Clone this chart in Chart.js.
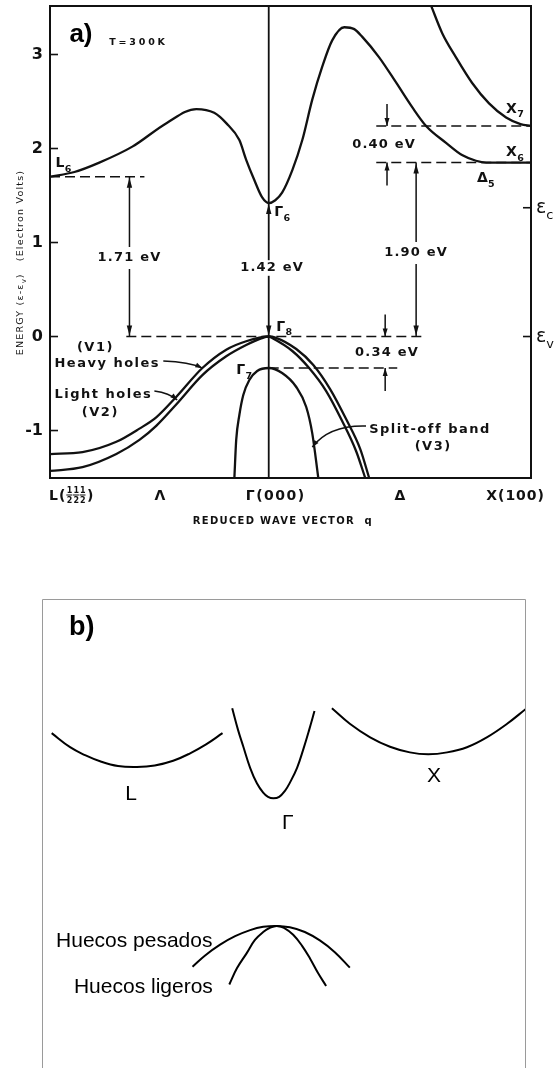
<!DOCTYPE html>
<html>
<head>
<meta charset="utf-8">
<title>GaAs band structure</title>
<script src="https://cdn.jsdelivr.net/npm/chart.js@4.4.1/dist/chart.umd.min.js"></script>
<style>
  html, body { margin:0; padding:0; background:#ffffff; width:559px; height:1068px; overflow:hidden; }
  canvas { position:absolute; left:0; display:block; }
  #chartA { top:0; }
  #chartB { top:540px; }
</style>
</head>
<body>
<canvas id="chartA" width="559" height="540"></canvas>
<canvas id="chartB" width="559" height="528"></canvas>
<script>
// ================= Panel a) : band structure (q: L=-0.834, Γ=0, X=1 ; E - Ev in eV) =================
const yTickVals = [-1, 0, 1, 2, 3];
const xTickQ    = [-0.834, -0.415, 0, 0.5, 1];
const xTickText = ['L', 'Λ', 'Γ(000)', 'Δ', 'X(100)'];
const xTitleText = 'REDUCED WAVE VECTOR  q';

const conductionQ = [-0.834,-0.741,-0.646,-0.520,-0.390,-0.276,-0.208,-0.162,-0.112,-0.086,-0.055,-0.025,0,0.025,0.051,0.090,0.128,0.166,0.204,0.242,0.288,0.326,0.356,0.421,0.486,0.547,0.600,0.676,0.737,0.790,0.829,1.0];
const conductionE = [1.70,1.75,1.85,2.02,2.27,2.42,2.38,2.27,2.09,1.88,1.665,1.48,1.42,1.45,1.53,1.77,2.09,2.52,2.87,3.15,3.29,3.27,3.19,2.97,2.70,2.44,2.24,2.06,1.93,1.87,1.85,1.85];

const upperBandQ = [0.619,0.661,0.714,0.775,0.840,0.905,0.960,1.0];
const upperBandE = [3.52,3.23,2.97,2.70,2.48,2.33,2.26,2.24];

const heavyQ = [-0.834,-0.710,-0.581,-0.493,-0.429,-0.352,-0.253,-0.162,-0.086,0,0.025,0.105,0.170,0.234,0.295,0.349,0.383];
const heavyE = [-1.25,-1.23,-1.12,-0.98,-0.86,-0.64,-0.335,-0.14,-0.05,0,-0.011,-0.133,-0.303,-0.559,-0.878,-1.197,-1.505];

const lightQ = [-0.834,-0.710,-0.581,-0.493,-0.429,-0.352,-0.253,-0.162,-0.086,-0.029,0,0.013,0.090,0.154,0.219,0.280,0.333,0.368];
const lightE = [-1.43,-1.39,-1.25,-1.10,-0.95,-0.72,-0.41,-0.21,-0.09,-0.02,0,-0.016,-0.154,-0.335,-0.580,-0.899,-1.218,-1.505];

const splitQ = [-0.131,-0.124,-0.112,-0.097,-0.074,-0.044,0,0.051,0.105,0.143,0.166,0.189];
const splitE = [-1.505,-1.10,-0.835,-0.622,-0.463,-0.367,-0.335,-0.388,-0.537,-0.75,-1.03,-1.505];

// dashed reference levels: L6, valence top, Γ7, X7, X6
const levelE     = [1.70, 0, -0.335, 2.24, 1.85];
const levelFromQ = [-0.834, -0.543, 0, 0.410, 0.410];
const levelToQ   = [-0.474, 0.600, 0.490, 1.0, 1.0];

// energy gaps (double arrows)
const gapText = ['1.71 eV', '1.42 eV', '1.90 eV'];
const gapQ    = [-0.531, 0, 0.562];
const gapLow  = [0, 0, 0];
const gapHigh = [1.70, 1.42, 1.85];
const gapLabelE = [0.835, 0.729, 0.888];
const gapLabelShift = [0, 0.013, 0];

// small separations
const sepText  = ['0.40 eV', '0.34 eV'];
const sepQ     = [0.451, 0.444];
const sepUpper = [2.24, 0];
const sepLower = [1.85, -0.335];
const sepLabelQ = [0.440, 0.451];
const sepLabelE = [2.037, -0.176];

// right-edge marks
const edgeE   = [1.37, 0];
const edgeSub = ['c', 'v'];

// band-point labels
const bandText = ['L', 'Γ', 'Γ', 'Γ', 'X', 'X', 'Δ'];
const bandSub  = ['6', '6', '8', '7', '7', '6', '5'];
const bandLabQ = [-0.813, 0.021, 0.029, -0.124, 0.905, 0.905, 0.794];
const bandLabE = [1.80, 1.28, 0.06, -0.40, 2.38, 1.92, 1.64];

const Q_MIN = -0.834, Q_MAX = 1.0, E_MIN = -1.505, E_MAX = 3.516;

// ================= Panel b) : schematic valleys =================
const bValleyLx = [0.20,0.58,0.89,1.20,1.57,1.96,2.33,2.71,3.06,3.39,3.73];
const bValleyLy = [7.14,6.84,6.67,6.54,6.44,6.42,6.45,6.55,6.71,6.90,7.14];
const bValleyGx = [3.93,4.05,4.16,4.30,4.44,4.57,4.67,4.78,4.90,5.02,5.12,5.27,5.40,5.52,5.63];
const bValleyGy = [7.67,7.21,6.85,6.40,6.07,5.87,5.78,5.75,5.78,5.91,6.08,6.40,6.80,7.21,7.61];
const bValleyXx = [5.99,6.36,6.78,7.19,7.60,7.98,8.37,8.78,9.19,9.61,9.99];
const bValleyXy = [7.67,7.34,7.05,6.85,6.73,6.69,6.73,6.84,7.05,7.34,7.65];
const bHeavyX = [3.11,3.37,3.68,3.99,4.30,4.57,4.85,5.12,5.43,5.74,6.05,6.36];
const bHeavyY = [2.16,2.40,2.63,2.81,2.94,3.01,3.03,3.00,2.90,2.72,2.47,2.14];
const bLightX = [3.87,4.03,4.23,4.40,4.57,4.71,4.85,5.00,5.19,5.37,5.54,5.70,5.87];
const bLightY = [1.78,2.13,2.45,2.73,2.90,2.99,3.03,2.99,2.84,2.61,2.33,2.03,1.75];
const bValleyText = ['L', 'Γ', 'X'];
const bHoleText = ['Huecos pesados', 'Huecos ligeros'];

// ================= helpers =================
const FA = '"DejaVu Sans", sans-serif';
const FB = '"Liberation Sans", Arial, sans-serif';
const INK = '#111111';

function pts(xs, ys) { return xs.map((v, i) => ({ x: v, y: ys[i] })); }
function curve(xs, ys, w, color) {
  return { data: pts(xs, ys), borderColor: color || INK, borderWidth: w || 2.3, pointRadius: 0,
           cubicInterpolationMode: 'monotone', fill: false };
}
function smooth(xs, ys) {
  return { data: pts(xs, ys), borderColor: '#000', borderWidth: 2, pointRadius: 0,
           tension: 0.4, fill: false };
}
function straight(data, w, dash) {
  return { data, borderColor: INK, borderWidth: w, pointRadius: 0, tension: 0, fill: false,
           borderDash: dash || [] };
}
function drawText(ctx, str, px, py, size, o) {
  o = o || {};
  ctx.save();
  ctx.font = (o.weight || 'normal') + ' ' + size + 'px ' + (o.family || FA);
  ctx.fillStyle = o.color || INK;
  ctx.textBaseline = o.base || 'alphabetic';
  ctx.textAlign = 'left';
  ctx.letterSpacing = (o.ls || 0) + 'px';
  const w = ctx.measureText(str).width;
  let sx = px;
  if (o.align === 'center') sx = px - w / 2;
  else if (o.align === 'right') sx = px - w;
  if (o.bg) { ctx.fillStyle = '#fff'; ctx.fillRect(sx - 2, py - size * 0.6, w + 4, size * 1.2); ctx.fillStyle = o.color || INK; }
  ctx.fillText(str, sx, py);
  ctx.restore();
  return sx + w;
}
function subLabel(ctx, main, sub, px, py, size, o) {
  const end = drawText(ctx, main, px, py, size, o);
  return drawText(ctx, sub, end - (o && o.ls ? o.ls * 0.5 : 0), py + size * 0.32, size * 0.68, o);
}
function head(ctx, x, y, dx, dy, L, W) {
  L = L || 9; W = W || 3;
  const bx = x - dx * L, by = y - dy * L;
  ctx.beginPath();
  ctx.moveTo(x, y);
  ctx.lineTo(bx - dy * W, by + dx * W);
  ctx.lineTo(bx + dy * W, by - dx * W);
  ctx.closePath();
  ctx.fill();
}

// ================= panel a annotations =================
const annotA = {
  id: 'annotA',
  afterDatasetsDraw(chart) {
    const { ctx, chartArea: ca, scales } = chart;
    const X = q => scales.x.getPixelForValue(q);
    const Y = e => scales.y.getPixelForValue(e);
    const B = { weight: 'bold', ls: 1.5 };
    ctx.save();
    ctx.strokeStyle = INK; ctx.fillStyle = INK;

    // frame
    ctx.lineWidth = 2;
    ctx.strokeRect(ca.left, ca.top, ca.right - ca.left, ca.bottom - ca.top);

    // inner ticks (left) and right-edge marks
    ctx.lineWidth = 1.6;
    yTickVals.forEach(v => { ctx.beginPath(); ctx.moveTo(ca.left, Y(v)); ctx.lineTo(ca.left + 8, Y(v)); ctx.stroke(); });
    edgeE.forEach((v, i) => {
      ctx.beginPath(); ctx.moveTo(ca.right, Y(v)); ctx.lineTo(ca.right - 8, Y(v)); ctx.stroke();
      subLabel(ctx, 'ɛ', edgeSub[i], ca.right + 5, Y(v) + 5, 19, {});
    });

    // gap arrows
    ctx.lineWidth = 1.5;
    gapText.forEach((t, i) => {
      const px = X(gapQ[i]), yt = Y(gapHigh[i]), yb = Y(gapLow[i]), yl = Y(gapLabelE[i]);
      if (i !== 1) {
        ctx.beginPath(); ctx.moveTo(px, yt); ctx.lineTo(px, yl - 11); ctx.moveTo(px, yl + 11); ctx.lineTo(px, yb); ctx.stroke();
      }
      head(ctx, px, yt + 1, 0, -1, 10, 2.7);
      head(ctx, px, yb - 1, 0, 1, 10, 2.7);
      drawText(ctx, t, X(gapQ[i] + gapLabelShift[i]), yl, 13, { align: 'center', base: 'middle', weight: 'bold', ls: 1.2, bg: i === 1 });
    });

    // small separations with arrows pointing at the levels
    sepText.forEach((t, i) => {
      const px = X(sepQ[i]), yu = Y(sepUpper[i]), yl = Y(sepLower[i]);
      ctx.beginPath(); ctx.moveTo(px, yu - 22); ctx.lineTo(px, yu); ctx.moveTo(px, yl + 23); ctx.lineTo(px, yl); ctx.stroke();
      head(ctx, px, yu, 0, 1, 8, 2.5);
      head(ctx, px, yl, 0, -1, 8, 2.5);
      drawText(ctx, t, X(sepLabelQ[i]), Y(sepLabelE[i]), 13, { align: 'center', base: 'middle', weight: 'bold', ls: 1.2 });
    });

    // band point labels
    bandText.forEach((t, i) => subLabel(ctx, t, bandSub[i], X(bandLabQ[i]), Y(bandLabE[i]), 14, { weight: 'bold', ls: 0.5 }));

    // valence band labels and leaders
    drawText(ctx, '(V1)', X(-0.661), Y(-0.154), 13, Object.assign({ align: 'center' }, B));
    drawText(ctx, 'Heavy holes', X(-0.817), Y(-0.324), 13, B);
    drawText(ctx, 'Light holes', X(-0.817), Y(-0.654), 13, B);
    drawText(ctx, '(V2)', X(-0.642), Y(-0.85), 13, Object.assign({ align: 'center' }, B));
    drawText(ctx, 'Split-off band', X(0.383), Y(-1.027), 13, B);
    drawText(ctx, '(V3)', X(0.627), Y(-1.207), 13, Object.assign({ align: 'center' }, B));

    const leaders = [
      [[-0.402, -0.261], [-0.303, -0.271], [-0.253, -0.335]],
      [[-0.436, -0.580], [-0.379, -0.601], [-0.349, -0.676]],
      [[0.371, -0.952], [0.230, -0.941], [0.166, -1.176]]
    ];
    ctx.lineWidth = 1.4;
    leaders.forEach(([s, c, e]) => {
      const sx = X(s[0]), sy = Y(s[1]), cx = X(c[0]), cy = Y(c[1]), ex = X(e[0]), ey = Y(e[1]);
      ctx.beginPath(); ctx.moveTo(sx, sy); ctx.quadraticCurveTo(cx, cy, ex, ey); ctx.stroke();
      const dx = ex - cx, dy = ey - cy, n = Math.hypot(dx, dy);
      head(ctx, ex, ey, dx / n, dy / n, 7, 2.5);
    });

    // panel tag and temperature
    drawText(ctx, 'a)', X(-0.760), Y(3.133), 26, { family: FB, weight: 'bold', color: '#000' });
    drawText(ctx, 'T=300K', X(-0.608), Y(3.101), 9.5, { weight: 'bold', ls: 2.8 });

    // x category labels
    const xb = ca.bottom + 22;
    xTickText.forEach((t, i) => {
      const px = X(xTickQ[i]);
      if (i === 0) {
        let cx = drawText(ctx, 'L(', px - 1, xb, 14, { weight: 'bold', ls: 1 });
        for (let k = 0; k < 3; k++) {
          drawText(ctx, '1', cx + 0.5, xb - 7, 8, { weight: 'bold' });
          ctx.fillRect(cx, xb - 5.5, 6, 1);
          drawText(ctx, '2', cx + 0.5, xb + 3, 8, { weight: 'bold' });
          cx += 6.6;
        }
        drawText(ctx, ')', cx + 1, xb, 14, { weight: 'bold' });
      } else if (i === xTickText.length - 1) {
        drawText(ctx, t, px + 14, xb, 14, { weight: 'bold', ls: 1, align: 'right' });
      } else {
        drawText(ctx, t, px + (i === 2 ? 7 : 0), xb, 14, { weight: 'bold', ls: i === 2 ? 1.5 : 0, align: 'center' });
      }
    });
    drawText(ctx, xTitleText, X(0.054), ca.bottom + 46, 10, { weight: 'bold', ls: 1.3, align: 'center' });

    // y title (rotated)
    ctx.save();
    ctx.translate(ca.left - 29, Y(-0.20));
    ctx.rotate(-Math.PI / 2);
    let e1 = drawText(ctx, 'ENERGY (ɛ-ɛ', 0, 0, 9.5, { base: 'middle', ls: 1.2 });
    e1 = drawText(ctx, 'v', e1, 3, 7, { base: 'middle' });
    e1 = drawText(ctx, ')', e1 + 1, 0, 9.5, { base: 'middle', ls: 1.2 });
    drawText(ctx, '(Electron Volts)', e1 + 12, 0, 9.5, { base: 'middle', ls: 1.2 });
    ctx.restore();

    ctx.restore();
  }
};

const datasetsA = [
  curve(conductionQ, conductionE),
  curve(upperBandQ, upperBandE),
  curve(heavyQ, heavyE),
  curve(lightQ, lightE),
  curve(splitQ, splitE),
  straight([{ x: 0, y: E_MIN }, { x: 0, y: E_MAX }], 1.8)
];
levelE.forEach((e, i) => datasetsA.push(straight([{ x: levelFromQ[i], y: e }, { x: levelToQ[i], y: e }], 1.5, [10, 5])));

new Chart(document.getElementById('chartA'), {
  type: 'line',
  data: { datasets: datasetsA },
  options: {
    responsive: false, animation: false, devicePixelRatio: 1,
    layout: { padding: { left: 0, top: 6, right: 28, bottom: 62 } },
    plugins: { legend: { display: false }, tooltip: { enabled: false } },
    scales: {
      x: { type: 'linear', min: Q_MIN, max: Q_MAX, display: false },
      y: {
        type: 'linear', min: E_MIN, max: E_MAX,
        afterBuildTicks: s => { s.ticks = yTickVals.map(v => ({ value: v })); },
        afterFit: s => { s.width = 50; s.paddingTop = 0; s.paddingBottom = 0; },
        ticks: { font: { family: FA, size: 16, weight: 'bold' }, color: INK, padding: 7 },
        grid: { drawOnChartArea: false, drawTicks: false },
        border: { display: false }
      }
    }
  },
  plugins: [annotA]
});

// ================= panel b =================
const annotB = {
  id: 'annotB',
  afterDatasetsDraw(chart) {
    const { ctx, chartArea: ca, scales } = chart;
    const X = v => scales.x.getPixelForValue(v);
    const Y = v => scales.y.getPixelForValue(v);
    ctx.save();
    ctx.strokeStyle = '#9a9a9a'; ctx.lineWidth = 1;
    ctx.beginPath();
    ctx.moveTo(ca.left + 0.5, ca.bottom);
    ctx.lineTo(ca.left + 0.5, ca.top + 0.5);
    ctx.lineTo(ca.right - 0.5, ca.top + 0.5);
    ctx.lineTo(ca.right - 0.5, ca.bottom);
    ctx.stroke();
    drawText(ctx, 'b)', X(0.56), Y(9.23), 27, { family: FB, weight: 'bold', color: '#000' });
    const vx = [1.84, 5.08, 8.10], vy = [5.71, 5.10, 6.10];
    bValleyText.forEach((t, i) => drawText(ctx, t, X(vx[i]), Y(vy[i]), 21, { family: FB, align: 'center', color: '#000' }));
    const hx = [0.29, 0.66], hy = [2.58, 1.60];
    bHoleText.forEach((t, i) => drawText(ctx, t, X(hx[i]), Y(hy[i]), 21, { family: FB, color: '#000' }));
    ctx.restore();
  }
};

new Chart(document.getElementById('chartB'), {
  type: 'line',
  data: { datasets: [
    smooth(bValleyLx, bValleyLy),
    smooth(bValleyGx, bValleyGy),
    smooth(bValleyXx, bValleyXy),
    smooth(bHeavyX, bHeavyY),
    smooth(bLightX, bLightY)
  ] },
  options: {
    responsive: false, animation: false, devicePixelRatio: 1,
    layout: { padding: { left: 42, top: 59, right: 33, bottom: 0 } },
    plugins: { legend: { display: false }, tooltip: { enabled: false } },
    scales: {
      x: { type: 'linear', min: 0, max: 10, display: false },
      y: { type: 'linear', min: 0, max: 10, display: false }
    }
  },
  plugins: [annotB]
});
</script>
</body>
</html>
